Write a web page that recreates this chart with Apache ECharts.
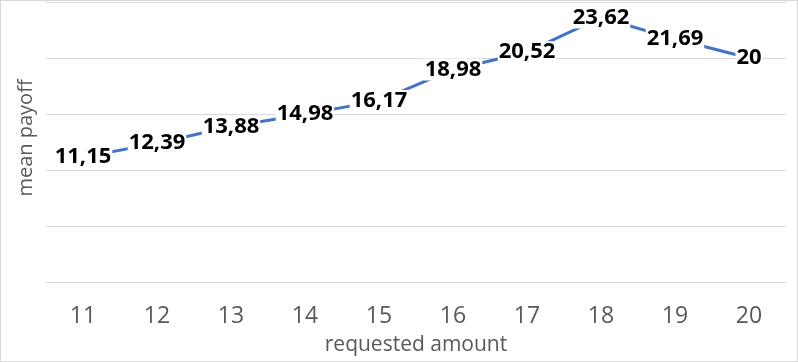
<!DOCTYPE html>
<html>
<head>
<meta charset="utf-8">
<script src="https://cdn.jsdelivr.net/npm/echarts@6/dist/echarts.min.js"></script>
<style>
  html, body { margin: 0; padding: 0; background: #fff; }
  #chart { width: 796px; height: 360px; border: 1px solid #d9d9d9; }
</style>
</head>
<body>
<div id="chart"></div>
<script>
// Requested amount categories and the mean payoff for each
const categories = ['11', '12', '13', '14', '15', '16', '17', '18', '19', '20'];
const meanPayoff = [11.15, 12.39, 13.88, 14.98, 16.17, 18.98, 20.52, 23.62, 21.69, 20];

const FONT = '"Open Sans"';
const chart = echarts.init(document.getElementById('chart'), null, { renderer: 'canvas' });

chart.setOption({
  animation: false,
  grid: { left: 45, right: 11, top: 1, bottom: 79 },
  xAxis: {
    type: 'category',
    data: categories,
    boundaryGap: true,
    name: 'requested amount',
    nameLocation: 'middle',
    nameGap: 53,
    nameTextStyle: { color: '#595959', fontSize: 21, fontFamily: FONT },
    axisLine: { show: true, lineStyle: { color: '#d9d9d9', width: 1 } },
    axisTick: { show: false },
    axisLabel: { color: '#595959', fontSize: 23, fontFamily: FONT, margin: 23 }
  },
  yAxis: {
    type: 'value',
    min: 0,
    max: 25,
    interval: 5,
    name: 'mean payoff',
    nameLocation: 'middle',
    nameGap: 10,
    nameTextStyle: { color: '#595959', fontSize: 20, fontFamily: FONT, padding: [0, 0, 0, 8] },
    axisLine: { show: false },
    axisTick: { show: false },
    axisLabel: { show: false },
    splitLine: { lineStyle: { color: '#d9d9d9', width: 1 } }
  },
  series: [{
    type: 'line',
    data: meanPayoff,
    symbol: 'circle',
    symbolSize: 0.1,
    showSymbol: true,
    itemStyle: { color: '#4472C4' },
    lineStyle: { color: '#4472C4', width: 3 },
    label: {
      show: true,
      position: 'inside',
      color: '#000',
      fontSize: 22,
      fontWeight: 'bold',
      fontFamily: FONT,
      backgroundColor: '#fff',
      padding: [0, 1],
      formatter: p => String(p.value).replace('.', ',')
    },
    labelLayout: { hideOverlap: false },
    z: 3
  }]
});
</script>
</body>
</html>
